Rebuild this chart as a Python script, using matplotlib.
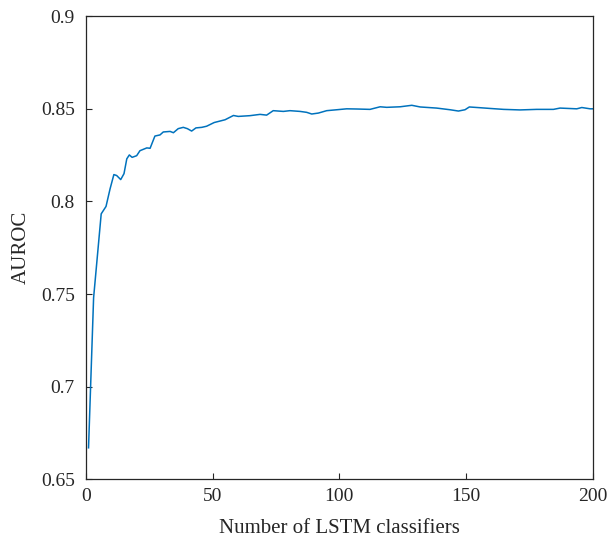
import matplotlib
matplotlib.use("Agg")
import matplotlib.pyplot as plt

# Number of LSTM classifiers (x) and AUROC (y)
n_classifiers = [1, 3, 6, 7.9, 9.5, 11, 12.1, 13.7, 15, 16.1, 17.1, 18.2, 20, 21.3, 24,
                 25.3, 27.2, 29.2, 30.5, 33.2, 34.5, 36.4, 38.4, 40, 41.7, 43.4, 45.7,
                 47.6, 50.6, 54.9, 58.2, 60.1, 64.7, 68.7, 71.3, 73.9, 77.9, 80.5, 84.5,
                 87.1, 89.1, 91.7, 95, 99, 102.9, 106.9, 112.1, 116.1, 118.7, 124,
                 128.6, 131.9, 138.4, 143.7, 147, 149.6, 151.3, 155.5, 159.5, 164.8,
                 171.3, 177.9, 184.5, 187.1, 193.7, 195.7, 199, 200]
auroc = [0.667, 0.748, 0.7933, 0.7973, 0.8068, 0.8145, 0.8140, 0.8118, 0.815, 0.8230,
         0.8251, 0.8238, 0.8247, 0.8274, 0.8289, 0.8287, 0.8353, 0.8359, 0.8375, 0.8378,
         0.8371, 0.8393, 0.8400, 0.8393, 0.8380, 0.8397, 0.8400, 0.8406, 0.8426, 0.8441,
         0.8464, 0.8459, 0.8463, 0.8470, 0.8466, 0.8490, 0.8486, 0.8490, 0.8486, 0.8481,
         0.8472, 0.8477, 0.8490, 0.8495, 0.8500, 0.8499, 0.8497, 0.8511, 0.8508, 0.8511,
         0.8519, 0.8510, 0.8504, 0.8495, 0.8488, 0.8495, 0.8510, 0.8506, 0.8502, 0.8497,
         0.8494, 0.8497, 0.8497, 0.8504, 0.8500, 0.8507, 0.8500, 0.8500]

x_ticks = [0, 50, 100, 150, 200]
y_ticks = [0.65, 0.7, 0.75, 0.8, 0.85, 0.9]
y_tick_labels = ["0.65", "0.7", "0.75", "0.8", "0.85", "0.9"]

plt.rcParams['font.family'] = ['Liberation Serif', 'DejaVu Serif']

fig = plt.figure(figsize=(6.09, 5.42), dpi=100)
ax = fig.add_axes([86/609, 1 - 479.3/542, (592.7 - 86)/609, (479.3 - 16.2)/542])
ax.plot(n_classifiers, auroc, color='#0072BD', linewidth=1.1)

ax.set_xlim(0, 200)
ax.set_ylim(0.65, 0.9)
ax.set_xticks(x_ticks)
ax.set_yticks(y_ticks)
ax.set_yticklabels(y_tick_labels)
ax.tick_params(direction='in', length=4, width=0.8, labelsize=14, colors='#262626',
               top=False, right=False)
ax.tick_params(axis='y', pad=8)
ax.tick_params(axis='x', pad=6)
for s in ax.spines.values():
    s.set_color('#262626')
    s.set_linewidth(0.9)
ax.set_xlabel('Number of LSTM classifiers', fontsize=15, color='#262626', labelpad=10)
ax.set_ylabel('AUROC', fontsize=15, color='#262626', labelpad=7)

fig.savefig('out.png', dpi=100)
